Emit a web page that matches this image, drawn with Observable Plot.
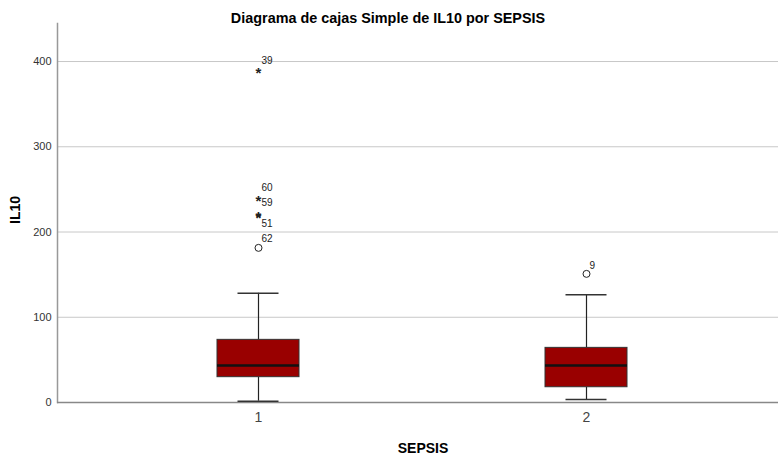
<!DOCTYPE html>
<html>
<head>
<meta charset="utf-8">
<script src="https://cdn.jsdelivr.net/npm/d3@7"></script>
<script src="https://cdn.jsdelivr.net/npm/@observablehq/plot@0.6"></script>
<style>
  html, body { margin: 0; padding: 0; background: #fff; }
  #chart svg { display: block; font-family: "Liberation Sans", Arial, sans-serif; }
</style>
</head>
<body>
<div id="chart"></div>
<script>
// Box summaries per SEPSIS group
const categories = [1, 2];
const whiskerLow = [1.5, 3.5];
const q1 = [29.7, 17.9];
const medians = [43.4, 43.4];
const q3 = [73.5, 64.1];
const whiskerHigh = [128.1, 126.3];

// Outliers
const outlierGroup = [1, 1, 1, 1, 1, 2];
const outlierValue = [390.5, 240.7, 222.6, 221.2, 181.4, 150.9];
const outlierId = ["39", "60", "59", "51", "62", "9"];
const outlierKind = ["extreme", "extreme", "extreme", "extreme", "outlier", "outlier"];

const yTicks = [0, 100, 200, 300, 400];

const title = "Diagrama de cajas Simple de IL10 por SEPSIS";
const xTitle = "SEPSIS";
const yTitle = "IL10";

const boxes = categories.map((c, i) => ({
  cat: c, lo: whiskerLow[i], q1: q1[i], med: medians[i], q3: q3[i], hi: whiskerHigh[i]
}));
const outliers = outlierValue.map((v, i) => ({
  cat: outlierGroup[i], value: v, id: outlierId[i], kind: outlierKind[i]
}));
// label placement: overlapping extreme pair -> second label below
const labelDy = {"39": -9, "60": -10, "59": -10, "51": 10, "62": -9, "9": -8};
const labelMarks = outliers.map(o => Plot.text([o], {
  x: "cat", y: "value", text: "id", textAnchor: "start", dx: 3, dy: labelDy[o.id], fontSize: 10, fill: "#222"
}));

const chart = Plot.plot({
  width: 778,
  height: 457,
  marginLeft: 57,
  marginRight: 0,
  marginTop: 23,
  marginBottom: 55,
  style: {fontFamily: "Liberation Sans, Arial, sans-serif", background: "#fff"},
  x: {type: "band", domain: categories, range: [216.5, 626.5], paddingInner: 0.75, paddingOuter: 0, axis: null},
  y: {domain: [0, 444.6], axis: null},
  marks: [
    // grid
    Plot.ruleY(yTicks.filter(d => d > 0), {stroke: "#c8c8c8", strokeWidth: 1}),
    // y axis line
    Plot.frame({anchor: "left", stroke: "#999", strokeWidth: 1.5}),
    // x axis line
    Plot.ruleY([0], {stroke: "#888", strokeWidth: 1.5}),
    // y tick labels
    Plot.text(yTicks, {y: d => d, frameAnchor: "left", dx: -6, textAnchor: "end", text: d => String(d), fontSize: 11, fill: "#333"}),
    // x tick labels
    Plot.text(categories, {x: d => d, y: 0, dy: 15, text: d => String(d), fontSize: 14, fill: "#444"}),
    // whiskers
    Plot.ruleX(boxes, {x: "cat", y1: "lo", y2: "q1", stroke: "#222", strokeWidth: 1.2}),
    Plot.ruleX(boxes, {x: "cat", y1: "q3", y2: "hi", stroke: "#222", strokeWidth: 1.2}),
    Plot.tickY(boxes, {x: "cat", y: "lo", stroke: "#333", strokeWidth: 1.5, insetLeft: 20.5, insetRight: 20.5}),
    Plot.tickY(boxes, {x: "cat", y: "hi", stroke: "#333", strokeWidth: 1.5, insetLeft: 20.5, insetRight: 20.5}),
    // boxes
    Plot.rectY(boxes, {x: "cat", y1: "q1", y2: "q3", fill: "#990000", stroke: "#333", strokeWidth: 1}),
    // medians
    Plot.tickY(boxes, {x: "cat", y: "med", stroke: "#111", strokeWidth: 2.5}),
    // outliers
    Plot.dot(outliers.filter(d => d.kind === "outlier"), {x: "cat", y: "value", r: 3.5, stroke: "#222", strokeWidth: 1, fill: "none"}),
    Plot.text(outliers.filter(d => d.kind === "extreme"), {x: "cat", y: "value", text: () => "*", fontSize: 15, fontWeight: "bold", dy: 4, fill: "#222"}),
    ...labelMarks,
    // titles
    Plot.text([title], {frameAnchor: "top", dy: -11, dx: -30, fontSize: 14.4, fontWeight: "bold", fill: "#000"}),
    Plot.text([xTitle], {frameAnchor: "bottom", dy: 50, dx: 5, fontSize: 14, fontWeight: "bold", fill: "#000"}),
    Plot.text([yTitle], {frameAnchor: "left", dx: -42, dy: 11, rotate: -90, fontSize: 14, fontWeight: "bold", fill: "#000"})
  ]
});
document.getElementById("chart").appendChild(chart);
</script>
</body>
</html>
